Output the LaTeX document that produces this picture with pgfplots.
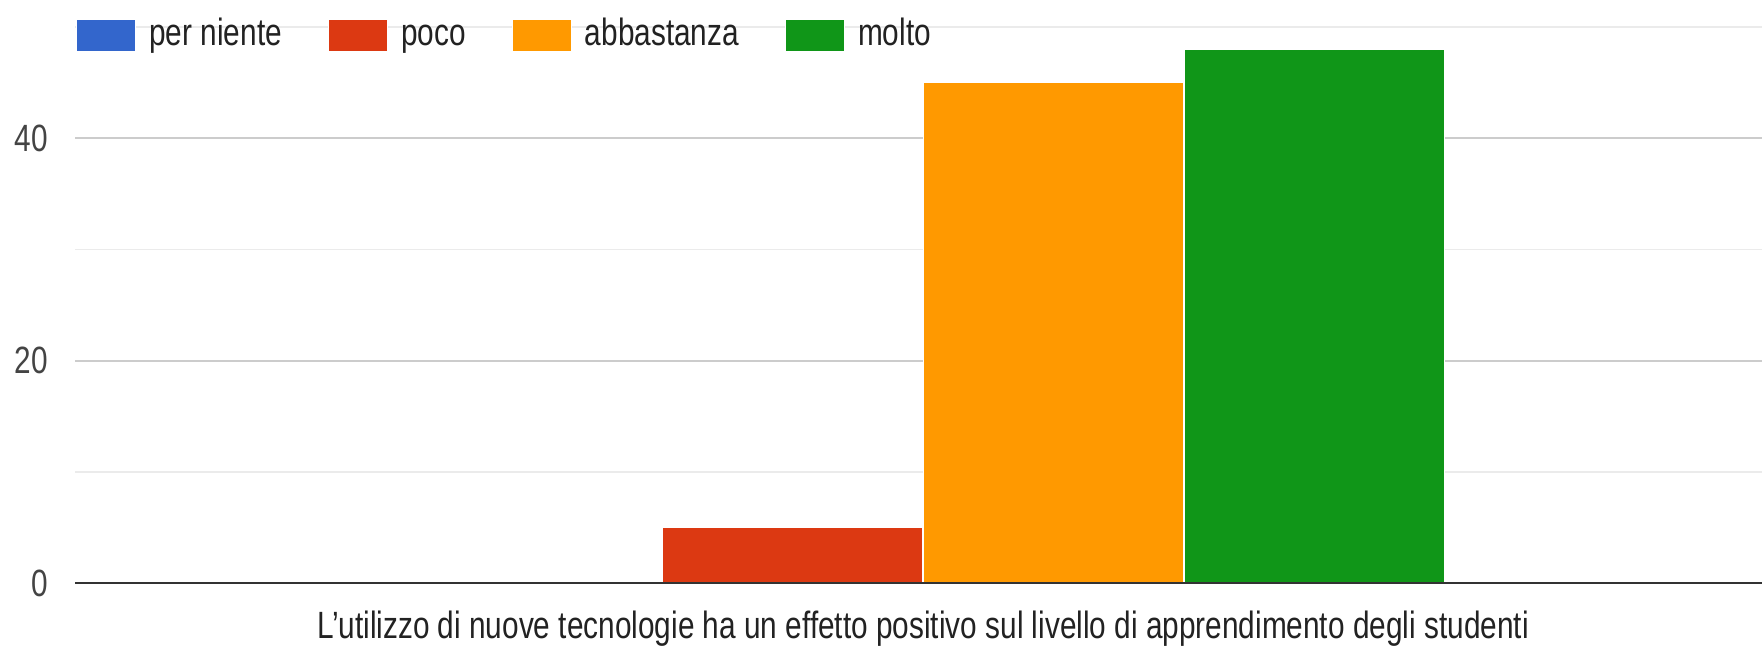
\documentclass[border=0pt]{standalone}
\usepackage{fontspec}
\setmainfont{Liberation Sans}[FakeStretch=0.784]
\usepackage{pgfplots}
\pgfplotsset{compat=1.18}
\definecolor{cBlue}{HTML}{3366CC}
\definecolor{cRed}{HTML}{DC3912}
\definecolor{cOrange}{HTML}{FF9900}
\definecolor{cGreen}{HTML}{109618}
\definecolor{cText}{HTML}{222222}
\definecolor{cTick}{HTML}{444444}
\definecolor{cGridMaj}{HTML}{CCCCCC}
\definecolor{cGridMin}{HTML}{EBEBEB}
\definecolor{cBase}{HTML}{333333}
\begin{document}
\begin{tikzpicture}[x=1pt,y=1pt]
\useasboundingbox (0,0) rectangle (881,322.5);
\begin{axis}[
  at={(37.5pt,31pt)}, anchor=south west,
  scale only axis, width=843.5pt, height=278pt,
  xmin=-0.848, xmax=0.839, ymin=0, ymax=50,
  axis line style={draw=none},
  major tick length=0pt, minor tick length=0pt,
  /pgf/number format/assume math mode=true,
  xtick={0}, xticklabels={L'utilizzo di nuove tecnologie ha un effetto positivo sul livello di apprendimento degli studenti},
  xticklabel style={anchor=center, yshift=-22.7pt, font=\fontsize{19}{22}\selectfont, text=cText, inner sep=0pt},
  ytick={20,40}, minor ytick={10,30,50},
  extra y ticks={0},
  ymajorgrids, yminorgrids,
  major grid style={color=cGridMaj, line width=0.9pt},
  minor grid style={color=cGridMin, line width=0.9pt},
  yticklabel style={anchor=east, inner sep=0pt, xshift=-13.5pt, font=\fontsize{19}{22}\selectfont, text=cTick},
  legend columns=4,
  legend style={at={(rel axis cs:0.0006,0.985)}, anchor=west, draw=none, fill=none,
    font=\fontsize{19}{22}\selectfont, text=cText,
    /tikz/every even column/.append style={column sep=16.6pt},
    nodes={inner xsep=6.5pt, inner ysep=0pt, text height=14pt, text depth=4pt, anchor=base west}, inner sep=0pt},
  legend image code/.code={\fill[#1] (0pt,-3pt) rectangle (29.5pt,13pt);},
]
\addplot[ybar, bar width=130pt, bar shift=-195.9pt, fill=cBlue, draw=white, line width=0.5pt] coordinates {(0,0.15)};
\addplot[ybar, bar width=130pt, bar shift=-65.3pt, fill=cRed, draw=white, line width=0.5pt] coordinates {(0,5)};
\addplot[ybar, bar width=130pt, bar shift=65.3pt, fill=cOrange, draw=white, line width=0.5pt] coordinates {(0,45)};
\addplot[ybar, bar width=130pt, bar shift=195.9pt, fill=cGreen, draw=white, line width=0.5pt] coordinates {(0,48)};
\legend{per niente, poco, abbastanza, molto}
\addplot[cBase, line width=1.4pt, forget plot] coordinates {(-0.848,0) (0.839,0)};
\end{axis}
\end{tikzpicture}
\end{document}
